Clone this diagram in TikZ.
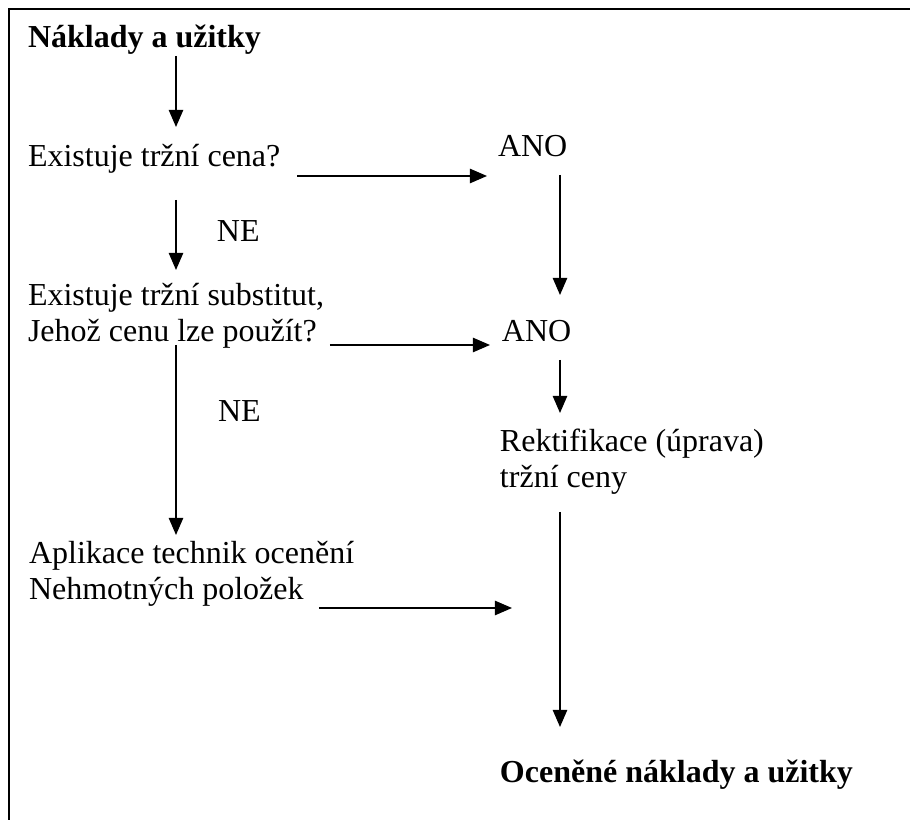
\documentclass[tikz,border=0pt]{standalone}
\usepackage{fontspec}
\setmainfont{Liberation Serif}
\usetikzlibrary{arrows.meta,calc}
\tikzset{
  arr/.style={-{Triangle[length=6.4pt,width=5.4pt]},line width=0.5pt},
  lbl/.style={anchor=base west,inner sep=0pt,outer sep=0pt,font=\fontsize{12}{13.8}\selectfont},
  ttl/.style={lbl,font=\fontsize{12}{13.8}\selectfont\bfseries}
}

\begin{document}
\begin{tikzpicture}[x=0.375pt,y=-0.375pt]
\useasboundingbox (0,0) rectangle (910,820);
\draw[line width=0.85pt] (910,9) -- (9,9) -- (9,820);
% columns of the vertical arrows
\coordinate (colA) at (176,0);
\coordinate (colB) at (560,0);
% texts (two-line nodes sit on their last line)
\node[ttl] (cost) at (28,48) {Náklady a užitky};
\node[lbl] (q1) at (28,167) {Existuje tržní cena?};
\node[lbl] (ano1) at (498,157) {ANO};
\node[lbl] (ne1) at (217,242) {NE};
\node[lbl,align=left] (q2) at (28,342) {Existuje tržní substitut,\\Jehož cenu lze použít?};
\node[lbl] (ano2) at (502,342) {ANO};
\node[lbl] (ne2) at (218,422) {NE};
\node[lbl,align=left] (rekt) at (500,488) {Rektifikace (úprava)\\tržní ceny};
\node[lbl,align=left] (apl) at (29,600) {Aplikace technik ocenění\\Nehmotných položek};
\node[ttl] (res) at (500,783) {Oceněné náklady a užitky};
\coordinate (merge) at (512,608);
% arrows
\draw[arr] ($(cost.base -| colA)+(0,8)$) -- ($(q1.base -| colA)+(0,-40)$);
\draw[arr] ($(q1.base -| colA)+(0,33)$) -- ($(q2.base -| colA)+(0,-72)$);
\draw[arr] ($(q1.base east)+(17,9)$) -- ($(q1.base -| ano1.west)+(-11,9)$);
\draw[arr] ($(ano1.base -| colB)+(0,18)$) -- ($(ano2.base -| colB)+(0,-47)$);
\draw[arr] ($(ano2.base -| q2.east)+(6,3)$) -- ($(ano2.base west)+(-12,3)$);
\draw[arr] ($(q2.base -| colA)+(0,3)$) -- ($(apl.base -| colA)+(0,-65)$);
\draw[arr] ($(ano2.base -| colB)+(0,18)$) -- ($(rekt.base -| colB)+(0,-75)$);
\draw[arr] ($(rekt.base -| colB)+(0,24)$) -- ($(res.base -| colB)+(0,-56)$);
\draw[arr] ($(apl.base -| colA)+(143,8)$) -- (merge);
\end{tikzpicture}
\end{document}
